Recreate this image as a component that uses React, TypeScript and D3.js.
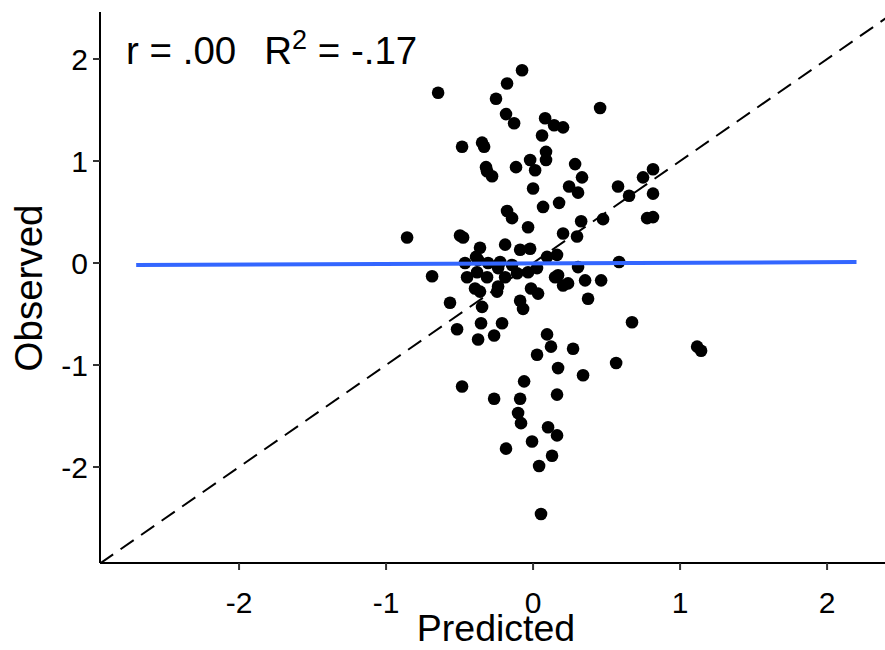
import React from "react";
import * as d3 from "d3";

const predicted: number[] = [
  -0.075, -0.177, -0.646, -0.252, -0.184, -0.129, 0.082, 0.143, 0.204, 0.061,
  0.456, -0.483, -0.347, -0.333, 0.088, 0.088, -0.02, -0.116, -0.32, 0.014,
  -0.313, -0.279, 0.286, 0.333, 0.245, 0.306, 0.0, 0.068, 0.177, 0.578,
  0.653, 0.748, 0.816, 0.816, 0.476, 0.327, 0.776, 0.816, -0.177, -0.143,
  -0.034, 0.204, 0.299, -0.857, -0.497, -0.476, -0.19, -0.088, -0.02, -0.361,
  -0.388, 0.163, 0.095, 0.585, 0.306, -0.687, -0.449, -0.381, -0.313, -0.238,
  -0.19, -0.109, -0.034, 0.027, -0.395, -0.361, -0.245, -0.238, -0.014, 0.034,
  -0.565, -0.347, -0.088, -0.068, -0.354, -0.211, -0.517, -0.265, -0.374, 0.095,
  0.122, 0.027, 0.15, 0.17, 0.204, 0.238, 0.354, 0.463, 0.374, 0.673,
  0.272, 1.116, 1.143, 0.565, 0.17, 0.34, 0.163, -0.483, -0.265, -0.088,
  -0.061, -0.102, -0.082, 0.102, 0.163, -0.007, -0.184, 0.129, 0.041, 0.054,
  -0.463, -0.374, -0.306, -0.224, -0.143,
];

const observed: number[] = [
  1.89, 1.76, 1.67, 1.61, 1.46, 1.37, 1.42, 1.35, 1.33, 1.25,
  1.52, 1.14, 1.18, 1.14, 1.09, 1.01, 1.01, 0.94, 0.94, 0.91,
  0.9, 0.85, 0.97, 0.84, 0.75, 0.69, 0.73, 0.55, 0.59, 0.75,
  0.66, 0.84, 0.92, 0.68, 0.43, 0.41, 0.44, 0.45, 0.51, 0.44,
  0.35, 0.29, 0.26, 0.25, 0.27, 0.25, 0.18, 0.13, 0.14, 0.15,
  0.06, 0.08, 0.06, 0.01, -0.04, -0.13, -0.14, -0.09, -0.14, -0.05,
  -0.14, -0.1, -0.09, -0.05, -0.25, -0.28, -0.28, -0.23, -0.25, -0.3,
  -0.39, -0.43, -0.37, -0.45, -0.59, -0.59, -0.65, -0.71, -0.75, -0.7,
  -0.82, -0.9, -0.14, -0.12, -0.22, -0.2, -0.17, -0.17, -0.35, -0.58,
  -0.84, -0.82, -0.86, -0.98, -1.03, -1.1, -1.29, -1.21, -1.33, -1.33,
  -1.16, -1.47, -1.57, -1.61, -1.69, -1.75, -1.82, -1.89, -1.99, -2.46,
  0.0, 0.03, 0.0, 0.01, -0.02,
];

const xTicks: number[] = [-2, -1, 0, 1, 2];
const yTicks: number[] = [-2, -1, 0, 1, 2];
const fitX: number[] = [-2.7, 2.2];
const fitY: number[] = [-0.02, 0.01];
const xDomain: number[] = [-2.946, 2.394];
const yDomain: number[] = [-2.941, 2.461];
const xTitle = "Predicted";
const yTitle = "Observed";

const W = 885;
const H = 650;
const left = 100;
const right = 885;
const top = 12;
const bottom = 563;
const FONT = "'Liberation Sans', Arial, Helvetica, sans-serif";

export default function App() {
  const x = d3.scaleLinear().domain(xDomain).range([left, right]);
  const y = d3.scaleLinear().domain(yDomain).range([bottom, top]);
  const line = d3
    .line<[number, number]>()
    .x((d) => x(d[0]))
    .y((d) => y(d[1]));
  const diag: [number, number][] = [
    [xDomain[0], xDomain[0]],
    [yDomain[1], yDomain[1]],
  ];
  const fit: [number, number][] = fitX.map((v, i) => [v, fitY[i]]);
  const pts = predicted.map((p, i) => ({ p, o: observed[i] }));

  return (
    <svg
      width={W}
      height={H}
      style={{ position: "absolute", left: 0, top: 0, background: "#fff" }}
      fontFamily={FONT}
    >
      <defs>
        <clipPath id="panel">
          <rect x={left} y={top} width={right - left} height={bottom - top} />
        </clipPath>
      </defs>
      <g clipPath="url(#panel)">
        <path
          d={line(diag) || ""}
          stroke="#000"
          strokeWidth={2}
          strokeDasharray="16,9"
          fill="none"
        />
        {pts.map((d, i) => (
          <circle key={i} cx={x(d.p)} cy={y(d.o)} r={6.3} fill="#000" />
        ))}
        <path d={line(fit) || ""} stroke="#3366FF" strokeWidth={4} fill="none" />
      </g>
      {/* axes */}
      <line x1={left} x2={right} y1={bottom} y2={bottom} stroke="#000" strokeWidth={2} />
      <line x1={left} x2={left} y1={top} y2={bottom} stroke="#000" strokeWidth={2} />
      {xTicks.map((t) => (
        <g key={"x" + t}>
          <line x1={x(t)} x2={x(t)} y1={bottom} y2={bottom + 7} stroke="#333" strokeWidth={2} />
          <text x={x(t)} y={bottom + 50} textAnchor="middle" fontSize={30} fill="#000">
            {t}
          </text>
        </g>
      ))}
      {yTicks.map((t) => (
        <g key={"y" + t}>
          <line x1={left - 7} x2={left} y1={y(t)} y2={y(t)} stroke="#333" strokeWidth={2} />
          <text x={left - 12} y={y(t) + 11} textAnchor="end" fontSize={30} fill="#000">
            {t}
          </text>
        </g>
      ))}
      <text x={496} y={641} textAnchor="middle" fontSize={37.5} fill="#000">
        {xTitle}
      </text>
      <text
        transform={`translate(42, 288) rotate(-90)`}
        textAnchor="middle"
        fontSize={38.5}
        fill="#000"
      >
        {yTitle}
      </text>
      <text x={126} y={64} fontSize={38.5} fill="#000">
        <tspan>r = .00</tspan>
        <tspan dx={28}>R</tspan>
        <tspan dy={-15} fontSize={27}>2</tspan>
        <tspan dy={15}> = -.17</tspan>
      </text>
    </svg>
  );
}
